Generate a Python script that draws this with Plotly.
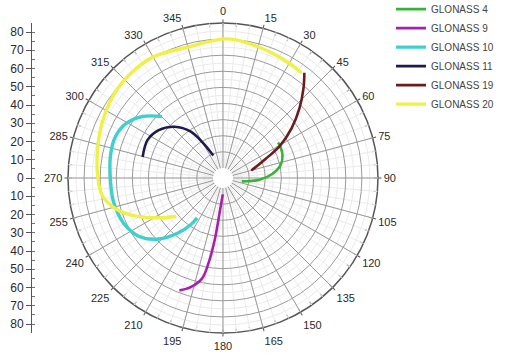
import plotly.graph_objects as go

# ---- data (azimuth in degrees, radial value) ----
names = ["GLONASS 4", "GLONASS 9", "GLONASS 10", "GLONASS 11", "GLONASS 19", "GLONASS 20"]
colors = ["#35b535", "#a81fae", "#3fcfcf", "#1d1a4c", "#6c1c1e", "#f0f046"]

g4_az = [100.1, 92.7, 85.3, 77.8, 69.2, 61.5, 57.2]
g4_r = [5.6, 16.4, 24.4, 30.2, 33.3, 34.3, 34.4]

g9_az = [180.7, 185.6, 187.6, 189.7, 191.8, 196.5, 201.2]
g9_r = [3.9, 15.4, 32.4, 47.7, 57.6, 64.4, 68.6]

g10_az = [315.2, 307.4, 299.6, 291.0, 281.4, 267.8, 257.3, 245.7, 235.0, 226.5, 219.3, 214.6, 212.9]
g10_r = [47.6, 56.6, 62.6, 65.3, 65.0, 63.6, 63.3, 61.6, 57.1, 48.8, 37.9, 29.0, 23.2]

g11_az = [284.6, 296.6, 306.7, 316.7, 325.2, 330.6, 336.7]
g11_r = [45.3, 46.2, 43.5, 37.5, 28.8, 18.3, 9.0]

g19_az = [75.3, 65.8, 60.3, 54.1, 47.6, 41.8, 37.7]
g19_r = [11.9, 22.9, 34.7, 46.3, 58.1, 68.8, 76.4]

g20_az = [36.7, 27.9, 15.5, 1.8, 344.8, 329.6, 318.1, 307.4, 295.1, 283.2, 271.1, 261.5, 253.5, 246.3, 238.2, 230.7]
g20_r = [75.3, 76.3, 78.0, 80.2, 77.9, 80.6, 80.3, 79.1, 76.4, 73.7, 71.6, 69.4, 62.5, 52.6, 40.7, 31.2]

series_az = [g4_az, g9_az, g10_az, g11_az, g19_az, g20_az]
series_r = [g4_r, g9_r, g10_r, g11_r, g19_r, g20_r]

ang_major = list(range(0, 360, 15))
ang_labels = [str(a) for a in ang_major]
ang_minor = list(range(0, 360, 5))
rad_major = list(range(10, 90, 10))
rad_minor = list(range(5, 90, 10))

left_vals = list(range(-80, 81, 10))
left_text = [str(abs(v)) for v in left_vals]

FONT = "Liberation Sans, Arial, sans-serif"

fig = go.Figure()

# invisible trace to create the cartesian subplot for the left scale
fig.add_trace(go.Scatter(x=[0], y=[0], mode="markers", marker=dict(opacity=0),
                         showlegend=False, hoverinfo="skip"))
# invisible traces so the background polar layers get drawn
for sp in ("polar", "polar2"):
    fig.add_trace(go.Scatterpolar(theta=[0], r=[50], mode="markers", marker=dict(opacity=0),
                                  showlegend=False, hoverinfo="skip", subplot=sp))

for nm, col, az, r in zip(names, colors, series_az, series_r):
    fig.add_trace(go.Scatterpolar(theta=az, r=r, mode="lines", name=nm,
                                  line=dict(color=col, width=3.4 if nm in ("GLONASS 20", "GLONASS 10") else 2.6,
                                            shape="spline"),
                                  subplot="polar3"))

dom_x = [0.0772, 0.7244]
HOLE = 0.065
common_radial = dict(range=[0, 90], showticklabels=False, ticks="", showline=False)

fig.update_layout(
    width=510, height=355,
    margin=dict(l=31, r=0, t=23, b=22, autoexpand=False),
    paper_bgcolor="white", plot_bgcolor="white",
    font=dict(family=FONT, size=12, color="#2a2a2a"),
    xaxis=dict(visible=False, range=[0, 1]),
    yaxis=dict(range=[-84.93, 84.93], tickvals=left_vals, ticktext=left_text,
               showline=True, linecolor="#555", linewidth=1,
               ticks="outside", ticklen=5, tickcolor="#555",
               minor=dict(ticks="inside", dtick=5, tick0=0, ticklen=3, tickcolor="#777"),
               showgrid=False, zeroline=False, anchor="free", position=0,
               tickfont=dict(size=12, color="#2a2a2a")),
    # base: outer circle + small ticks every 5 degrees
    polar=dict(
        domain=dict(x=dom_x, y=[0, 1]),
        bgcolor="white", hole=0,
        angularaxis=dict(rotation=90, direction="clockwise", tickmode="array",
                         tickvals=ang_minor, ticktext=["" for _ in ang_minor],
                         showgrid=False, ticks="inside", ticklen=3, tickcolor="#666",
                         showline=True, linecolor="#555", linewidth=1.5),
        radialaxis=dict(**common_radial, showgrid=False),
    ),
    # faint minor grid
    polar2=dict(
        domain=dict(x=dom_x, y=[0, 1]),
        bgcolor="rgba(0,0,0,0)", hole=HOLE,
        angularaxis=dict(rotation=90, direction="clockwise", tickmode="array",
                         tickvals=ang_minor, ticktext=["" for _ in ang_minor],
                         showgrid=True, gridcolor="#ebebeb", gridwidth=1,
                         ticks="", showline=False),
        radialaxis=dict(**common_radial, tickmode="array", tickvals=rad_minor,
                        showgrid=True, gridcolor="#ebebeb", gridwidth=1),
    ),
    # major grid, labels and data
    polar3=dict(
        domain=dict(x=dom_x, y=[0, 1]),
        bgcolor="rgba(0,0,0,0)", hole=HOLE,
        angularaxis=dict(rotation=90, direction="clockwise", tickmode="array",
                         tickvals=ang_major, ticktext=ang_labels,
                         showgrid=True, gridcolor="#9a9a9a", gridwidth=1,
                         ticks="outside", ticklen=3, tickcolor="#555",
                         showline=False,
                         tickfont=dict(size=11, color="#2a2a2a")),
        radialaxis=dict(**common_radial, tickmode="array", tickvals=rad_major,
                        showgrid=True, gridcolor="#9a9a9a", gridwidth=1),
    ),
    legend=dict(x=0.7516, y=1.0916, xanchor="left", yanchor="top",
                bgcolor="rgba(0,0,0,0)", borderwidth=0,
                font=dict(size=10, color="#444"), tracegroupgap=0),
    showlegend=True,
)

fig.write_html("out.html", post_script="document.body.style.margin='0';",
               config={"displayModeBar": False})
